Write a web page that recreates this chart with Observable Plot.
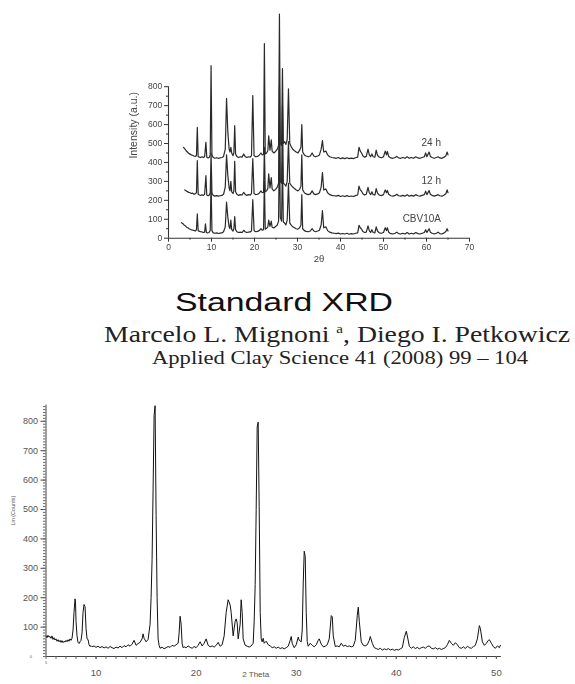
<!DOCTYPE html>
<html>
<head>
<meta charset="utf-8">
<script src="https://cdn.jsdelivr.net/npm/d3@7"></script>
<script src="https://cdn.jsdelivr.net/npm/@observablehq/plot@0.6"></script>
<style>
  html, body { margin: 0; padding: 0; background: #fff; }
  body { position: relative; width: 575px; height: 684px; overflow: hidden; }
  #top { position: absolute; left: 0; top: 0; filter: blur(0.35px); }
  #caption { position: absolute; left: 0; top: 270px; }
  #bottom { position: absolute; left: 0; top: 380px; }
</style>
</head>
<body>
<div id="top"></div>
<svg id="caption" width="575" height="110" xmlns="http://www.w3.org/2000/svg">
  <text x="175" y="41" font-family="Liberation Sans, Arial, sans-serif" font-size="25" fill="#111"
        textLength="218" lengthAdjust="spacingAndGlyphs">Standard XRD</text>
  <text x="104" y="72" font-family="Liberation Serif, Times New Roman, serif" font-size="24" fill="#222"
        textLength="466" lengthAdjust="spacingAndGlyphs">Marcelo L. Mignoni <tspan font-size="13" dy="-9">a</tspan><tspan dy="9">, Diego I. Petkowicz</tspan></text>
  <text x="152" y="94" font-family="Liberation Serif, Times New Roman, serif" font-size="18.5" fill="#222"
        textLength="376" lengthAdjust="spacingAndGlyphs">Applied Clay Science 41 (2008) 99 – 104</text>
</svg>
<div id="bottom"></div>
<script>
// ---- Zeolite patterns after 0 h (CBV10A), 12 h and 24 h: [2θ, intensity a.u.] ----
const cbv10a = [[3.0,82],[3.3,78],[3.6,70],[3.9,66],[4.2,58],[4.5,55],[4.8,50],[5.1,46],[5.4,44],[5.7,42],[6.0,40],[6.3,38],[6.5,45],[6.7,128],[6.9,40],[7.2,36],[7.5,34],[7.8,33],[8.1,30],[8.4,32],[8.6,76],[8.8,30],[9.1,28],[9.4,30],[9.7,40],[9.9,300],[10.1,40],[10.4,28],[10.8,26],[11.2,28],[11.6,25],[12.0,27],[12.4,28],[12.8,34],[13.2,60],[13.5,190],[13.8,110],[14.1,60],[14.3,50],[14.5,95],[14.7,45],[15.0,38],[15.2,50],[15.4,114],[15.6,45],[15.9,34],[16.3,30],[16.7,32],[17.1,30],[17.5,42],[17.8,34],[18.2,30],[18.6,32],[19.0,33],[19.3,38],[19.6,204],[19.9,40],[20.3,34],[20.7,36],[21.1,40],[21.5,50],[21.8,42],[22.1,45],[22.3,300],[22.5,48],[22.8,52],[23.1,60],[23.3,95],[23.6,62],[23.9,90],[24.1,58],[24.5,54],[24.9,62],[25.3,70],[25.6,90],[25.8,560],[26.0,110],[26.3,90],[26.5,400],[26.7,85],[27.0,80],[27.3,70],[27.6,95],[27.9,290],[28.2,80],[28.5,70],[28.9,60],[29.3,55],[29.7,50],[30.1,48],[30.5,55],[30.8,70],[31.0,230],[31.2,50],[31.6,40],[32.0,36],[32.5,34],[33.0,38],[33.4,50],[33.8,38],[34.2,34],[34.7,38],[35.1,42],[35.5,70],[35.8,146],[36.1,55],[36.6,60],[37.0,40],[37.5,32],[38.0,28],[38.5,26],[39.0,24],[39.5,27],[40.0,22],[40.5,25],[41.0,22],[41.5,26],[42.0,21],[42.5,24],[43.0,22],[43.5,26],[44.0,28],[44.3,68],[44.6,55],[44.9,48],[45.2,35],[45.6,30],[46.0,32],[46.4,65],[46.7,40],[47.0,30],[47.3,45],[47.6,30],[48.0,28],[48.3,60],[48.6,38],[49.0,28],[49.5,26],[50.0,30],[50.4,55],[50.7,40],[50.9,55],[51.2,32],[51.7,24],[52.2,22],[52.7,26],[53.1,32],[53.5,24],[54.0,22],[54.5,26],[55.0,22],[55.5,30],[56.0,22],[56.5,26],[57.0,22],[57.5,30],[58.0,24],[58.5,22],[59.0,26],[59.5,30],[59.8,45],[60.1,30],[60.6,50],[60.9,32],[61.3,26],[61.8,22],[62.3,26],[62.7,32],[63.1,24],[63.6,22],[64.1,28],[64.5,35],[64.8,50],[65.0,38]];

const h12 = [[3.8,255],[4.1,250],[4.4,246],[4.7,242],[5.0,240],[5.3,236],[5.6,238],[5.9,232],[6.2,234],[6.5,240],[6.7,410],[6.9,232],[7.2,228],[7.5,226],[7.8,230],[8.1,226],[8.4,232],[8.7,330],[8.9,228],[9.2,224],[9.5,228],[9.7,240],[9.9,450],[10.1,240],[10.4,226],[10.8,222],[11.2,225],[11.6,222],[12.0,224],[12.4,226],[12.8,232],[13.2,270],[13.5,440],[13.8,330],[14.1,265],[14.3,250],[14.5,300],[14.7,245],[15.0,236],[15.2,250],[15.4,406],[15.6,245],[15.9,232],[16.3,226],[16.7,230],[17.1,228],[17.5,242],[17.8,232],[18.2,226],[18.6,230],[19.0,228],[19.3,236],[19.6,420],[19.9,236],[20.3,230],[20.7,232],[21.1,238],[21.5,250],[21.8,240],[22.1,242],[22.3,480],[22.5,245],[22.8,250],[23.1,262],[23.3,340],[23.6,265],[23.9,320],[24.1,260],[24.5,250],[24.9,258],[25.3,270],[25.6,290],[25.8,800],[26.0,300],[26.3,290],[26.5,700],[26.7,290],[27.0,285],[27.3,275],[27.6,300],[27.9,510],[28.2,290],[28.5,280],[28.9,270],[29.3,262],[29.7,255],[30.1,250],[30.5,258],[30.8,275],[31.0,440],[31.2,255],[31.6,240],[32.0,234],[32.5,230],[33.0,234],[33.4,250],[33.8,234],[34.2,230],[34.7,234],[35.1,240],[35.5,270],[35.8,347],[36.1,255],[36.6,260],[37.0,240],[37.5,230],[38.0,226],[38.5,224],[39.0,222],[39.5,226],[40.0,220],[40.5,224],[41.0,220],[41.5,225],[42.0,220],[42.5,223],[43.0,220],[43.5,225],[44.0,228],[44.3,275],[44.6,255],[44.9,248],[45.2,235],[45.6,228],[46.0,232],[46.4,268],[46.7,240],[47.0,230],[47.3,245],[47.6,230],[48.0,228],[48.3,262],[48.6,238],[49.0,228],[49.5,225],[50.0,230],[50.4,255],[50.7,240],[50.9,252],[51.2,232],[51.7,224],[52.2,222],[52.7,226],[53.1,232],[53.5,224],[54.0,222],[54.5,226],[55.0,222],[55.5,230],[56.0,222],[56.5,226],[57.0,222],[57.5,230],[58.0,224],[58.5,222],[59.0,226],[59.5,230],[59.8,248],[60.1,230],[60.6,252],[60.9,232],[61.3,226],[61.8,222],[62.3,226],[62.7,230],[63.1,224],[63.6,222],[64.1,228],[64.5,235],[64.8,255],[65.0,240]];

const h24 = [[3.5,480],[3.8,472],[4.1,462],[4.4,455],[4.7,448],[5.0,444],[5.3,440],[5.6,438],[5.9,434],[6.2,432],[6.5,436],[6.7,585],[6.9,430],[7.2,428],[7.5,426],[7.8,430],[8.1,426],[8.4,430],[8.7,506],[8.9,428],[9.2,424],[9.5,428],[9.7,440],[9.9,911],[10.1,440],[10.4,426],[10.8,422],[11.2,425],[11.6,422],[12.0,424],[12.4,426],[12.8,432],[13.2,470],[13.5,738],[13.8,560],[14.1,470],[14.3,455],[14.5,480],[14.7,450],[15.0,436],[15.2,450],[15.4,594],[15.6,445],[15.9,432],[16.3,426],[16.7,430],[17.1,428],[17.5,445],[17.8,432],[18.2,426],[18.6,430],[19.0,428],[19.3,436],[19.6,753],[19.9,436],[20.3,430],[20.7,432],[21.1,438],[21.5,450],[21.8,440],[22.1,442],[22.3,1028],[22.5,445],[22.8,450],[23.1,462],[23.3,541],[23.6,465],[23.9,520],[24.1,460],[24.5,450],[24.9,458],[25.3,470],[25.6,490],[25.8,1183],[26.0,500],[26.3,490],[26.5,895],[26.7,500],[27.0,510],[27.3,495],[27.6,520],[27.9,789],[28.2,500],[28.5,485],[28.9,470],[29.3,462],[29.7,455],[30.1,450],[30.5,465],[30.8,480],[31.0,600],[31.2,455],[31.6,440],[32.0,434],[32.5,430],[33.0,434],[33.4,450],[33.8,434],[34.2,430],[34.7,434],[35.1,440],[35.5,470],[35.8,515],[36.1,455],[36.6,460],[37.0,440],[37.5,430],[38.0,426],[38.5,424],[39.0,422],[39.5,426],[40.0,420],[40.5,424],[41.0,420],[41.5,425],[42.0,420],[42.5,423],[43.0,420],[43.5,425],[44.0,428],[44.3,480],[44.6,460],[44.9,450],[45.2,435],[45.6,428],[46.0,432],[46.4,470],[46.7,440],[47.0,430],[47.3,445],[47.6,430],[48.0,428],[48.3,465],[48.6,438],[49.0,428],[49.5,425],[50.0,430],[50.4,460],[50.7,440],[50.9,458],[51.2,432],[51.7,424],[52.2,422],[52.7,426],[53.1,432],[53.5,424],[54.0,422],[54.5,426],[55.0,422],[55.5,430],[56.0,422],[56.5,426],[57.0,422],[57.5,430],[58.0,424],[58.5,422],[59.0,426],[59.5,430],[59.8,450],[60.1,430],[60.6,455],[60.9,432],[61.3,426],[61.8,422],[62.3,426],[62.7,430],[63.1,424],[63.6,422],[64.1,428],[64.5,435],[64.8,455],[65.0,440]];

const seriesNames = ["CBV10A", "12 h", "24 h"];
const topXTicks = [0, 10, 20, 30, 40, 50, 60, 70];
const topXMinor = [5, 15, 25, 35, 45, 55, 65];
const topYTicks = [0, 100, 200, 300, 400, 500, 600, 700, 800];
const topYMinor = [50, 150, 250, 350, 450, 550, 650, 750];

// ---- Standard pattern: [2 Theta, Lin (Counts)] ----
const standardPattern = [[5.0,70],[5.1,64],[5.2,72],[5.3,66],[5.4,68],[5.5,62],[5.6,70],[5.7,58],[5.8,64],[5.9,56],[6.0,60],[6.1,52],[6.2,57],[6.3,50],[6.4,55],[6.5,48],[6.6,54],[6.7,47],[6.8,52],[6.9,49],[7.0,55],[7.1,50],[7.2,57],[7.3,52],[7.4,60],[7.5,55],[7.6,62],[7.7,90],[7.8,150],[7.9,196],[7.95,185],[8.0,120],[8.1,70],[8.2,48],[8.3,44],[8.4,50],[8.5,55],[8.6,80],[8.7,150],[8.8,177],[8.9,170],[9.0,95],[9.1,60],[9.2,58],[9.3,40],[9.4,34],[9.5,37],[9.6,33],[9.8,36],[10.0,31],[10.2,35],[10.4,30],[10.6,34],[10.8,29],[11.0,33],[11.2,28],[11.4,34],[11.6,30],[11.8,27],[12.0,32],[12.2,29],[12.4,35],[12.6,30],[12.8,37],[13.0,33],[13.2,40],[13.4,35],[13.6,42],[13.8,55],[14.0,38],[14.2,44],[14.4,48],[14.6,60],[14.7,77],[14.8,62],[15.0,50],[15.2,58],[15.4,110],[15.5,200],[15.6,330],[15.7,570],[15.8,820],[15.9,853],[16.0,480],[16.1,200],[16.2,60],[16.3,38],[16.4,28],[16.6,32],[16.8,26],[17.0,30],[17.2,34],[17.4,31],[17.6,38],[17.8,35],[18.0,40],[18.2,45],[18.3,80],[18.4,137],[18.5,110],[18.6,45],[18.7,30],[18.8,33],[19.0,30],[19.2,36],[19.4,31],[19.6,28],[19.8,34],[20.0,30],[20.2,38],[20.4,50],[20.6,36],[20.8,45],[21.0,60],[21.2,38],[21.4,33],[21.6,36],[21.8,32],[22.0,38],[22.2,48],[22.4,35],[22.6,40],[22.8,70],[23.0,150],[23.2,193],[23.4,175],[23.5,150],[23.7,70],[23.9,120],[24.0,128],[24.1,115],[24.2,60],[24.4,110],[24.5,193],[24.6,150],[24.7,60],[24.9,38],[25.1,35],[25.3,32],[25.5,36],[25.7,45],[25.8,120],[25.9,245],[26.0,500],[26.1,780],[26.2,797],[26.3,510],[26.4,150],[26.5,60],[26.6,50],[26.7,62],[26.8,45],[27.0,52],[27.2,40],[27.4,36],[27.6,30],[27.8,33],[28.0,28],[28.2,32],[28.4,27],[28.6,30],[28.8,26],[29.0,30],[29.2,35],[29.4,55],[29.5,68],[29.6,45],[29.8,30],[30.0,40],[30.2,66],[30.3,55],[30.5,50],[30.6,90],[30.7,250],[30.8,358],[30.9,340],[31.0,150],[31.1,50],[31.2,35],[31.4,45],[31.6,38],[31.8,33],[32.0,40],[32.2,55],[32.3,60],[32.5,42],[32.7,33],[32.9,35],[33.1,40],[33.3,60],[33.5,139],[33.6,135],[33.7,70],[33.9,34],[34.1,36],[34.3,33],[34.5,45],[34.7,35],[34.9,38],[35.1,34],[35.3,36],[35.5,33],[35.7,35],[35.9,55],[36.1,140],[36.2,168],[36.3,120],[36.5,50],[36.7,38],[36.9,36],[37.1,40],[37.3,55],[37.4,68],[37.6,45],[37.8,30],[38.0,27],[38.2,24],[38.4,28],[38.6,22],[38.8,26],[39.0,23],[39.2,27],[39.4,22],[39.6,25],[39.8,21],[40.0,24],[40.2,22],[40.4,26],[40.6,30],[40.8,65],[41.0,86],[41.1,70],[41.3,35],[41.5,28],[41.7,33],[41.9,27],[42.1,31],[42.3,26],[42.5,30],[42.7,32],[42.9,28],[43.1,34],[43.3,36],[43.5,28],[43.7,26],[43.9,30],[44.1,25],[44.3,28],[44.5,24],[44.7,27],[44.9,30],[45.1,40],[45.3,55],[45.5,45],[45.7,38],[45.9,47],[46.1,40],[46.3,30],[46.5,28],[46.7,33],[46.9,27],[47.1,35],[47.3,30],[47.5,28],[47.7,34],[47.9,38],[48.1,60],[48.3,105],[48.4,95],[48.6,50],[48.8,38],[49.0,45],[49.2,55],[49.3,57],[49.5,45],[49.7,33],[49.9,28],[50.1,36],[50.3,30],[50.4,38]];

const bottomXTicks = [10, 20, 30, 40, 50];
const bottomXMinor = d3.range(5, 51, 1);
const bottomYTicks = [100, 200, 300, 400, 500, 600, 700, 800];
const bottomYMinor = d3.range(0, 860, 10);

const px = d => d[0], py = d => d[1];

// ---------- upper figure: three offset traces ----------
const traces = [cbv10a, h12, h24];
const lastPoints = traces.map((t, i) => ({x: t[t.length - 1][0], y: t[t.length - 1][1], name: seriesNames[i]}));

const topChart = Plot.plot({
  width: 575, height: 270,
  marginLeft: 168, marginRight: 106, marginTop: 1, marginBottom: 32.3,
  x: {domain: [0, 70]},
  y: {domain: [0, 1250]},
  style: {fontFamily: "Liberation Sans, Arial, sans-serif", fontSize: "8.5px", color: "#444", background: "transparent"},
  marks: [
    Plot.ruleY([0], {x1: 0, x2: 70, stroke: "#333", strokeWidth: 1.1}),
    Plot.ruleX([0], {y1: 0, y2: 800, stroke: "#333", strokeWidth: 1.1}),
    Plot.axisY(topYTicks, {tickSize: 4, tickPadding: 2.3, label: null, stroke: "#333"}),
    Plot.axisY(topYMinor, {tickSize: 2, text: null, label: null, stroke: "#333"}),
    Plot.axisX(topXTicks, {tickSize: 4, tickPadding: 1.5, label: null, stroke: "#333"}),
    Plot.axisX(topXMinor, {tickSize: 2, text: null, label: null, stroke: "#333"}),
    ...traces.map(t => Plot.line(t, {x: px, y: py, stroke: "#2a2a2a", strokeWidth: 1.2})),
    Plot.text(lastPoints, {x: "x", y: "y", text: "name", textAnchor: "end", dx: -7, dy: -12, fontSize: 10, fill: "#444"}),
    Plot.text(["Intensity (a.u.)"], {frameAnchor: "left", dx: -35, dy: 38.7, rotate: -90, fontSize: 10.5, fill: "#444"}),
    Plot.text(["2θ"], {frameAnchor: "bottom", dy: 24, fontSize: 9.5, fill: "#444"})
  ]
});
document.getElementById("top").append(topChart);

// ---------- lower figure: standard pattern ----------
const bottomChart = Plot.plot({
  width: 575, height: 304,
  marginLeft: 45.5, marginRight: 74.1, marginTop: 20.2, marginBottom: 28,
  x: {domain: [5, 50.5]},
  y: {domain: [0, 870]},
  style: {fontFamily: "Liberation Sans, Arial, sans-serif", fontSize: "9px", color: "#555", background: "transparent"},
  marks: [
    Plot.ruleY([0], {x1: 5, x2: 50.5, stroke: "#444"}),
    Plot.ruleX([5], {y1: 0, y2: 855, stroke: "#444"}),
    Plot.axisY(bottomYTicks, {tickSize: 5, tickPadding: 3, label: null, stroke: "#444"}),
    Plot.axisY(bottomYMinor, {tickSize: 2.5, text: null, label: null, stroke: "#666"}),
    Plot.axisY([0], {tickSize: 0, tickPadding: 14, fontSize: 4, label: null}),
    Plot.axisX(bottomXTicks, {tickSize: 3, tickPadding: 9.5, fontSize: 9.5, label: null, stroke: "#444"}),
    Plot.axisX(bottomXMinor, {tickSize: 3, text: null, label: null, stroke: "#666"}),
    Plot.axisX([5], {tickSize: 0, tickPadding: 5, fontSize: 4, label: null}),
    Plot.line(standardPattern, {x: px, y: py, stroke: "#111", strokeWidth: 1}),
    Plot.text(["Lin (Counts)"], {frameAnchor: "left", dx: -33, dy: -3, rotate: -90, fontSize: 5.5, fill: "#555"}),
    Plot.text(["2 Theta"], {frameAnchor: "bottom", dx: -18, dy: 20, fontSize: 8, fill: "#555"})
  ]
});
document.getElementById("bottom").append(bottomChart);
</script>
</body>
</html>
